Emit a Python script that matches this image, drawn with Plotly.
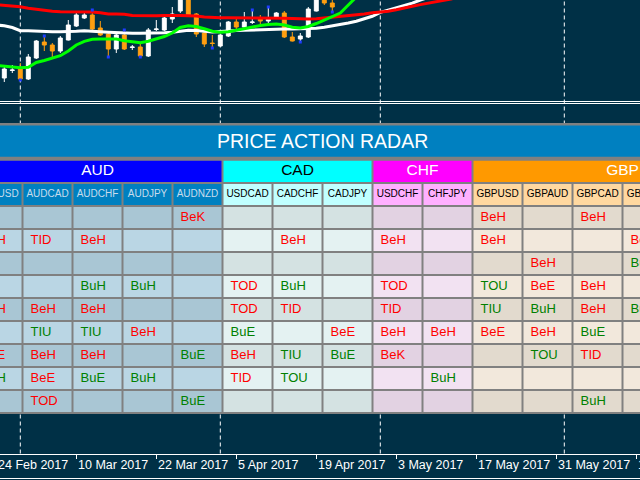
import plotly.graph_objects as go

# ---------------- price chart: daily bars, oldest first (bar 0 = first visible) ----------------
bar_open = [132.20, 132.95, 133.20, 132.10, 134.20, 135.80, 135.50, 134.90, 136.00, 137.40,
            138.20, 138.50, 137.20, 136.60, 135.10, 136.50, 135.25, 135.30, 134.40, 137.05,
            137.00, 138.10, 138.90, 140.40, 138.60, 136.70, 135.70, 135.40, 136.40, 137.80,
            137.30, 137.75, 138.20, 137.90, 138.30, 138.70, 136.30, 136.10, 136.30, 138.90,
            140.30, 139.70]
bar_high = [133.30, 133.50, 133.70, 134.60, 136.00, 136.40, 135.70, 136.40, 138.00, 138.70,
            138.70, 139.00, 137.90, 136.70, 136.80, 137.00, 135.50, 135.70, 137.20, 138.00,
            138.30, 139.30, 140.50, 140.60, 138.70, 136.80, 136.50, 136.60, 137.90, 138.10,
            138.80, 139.00, 138.50, 139.30, 138.80, 138.90, 136.80, 136.70, 139.30, 140.60,
            140.50, 140.00]
bar_low = [131.80, 132.70, 132.00, 132.00, 134.10, 134.90, 134.30, 134.70, 135.95, 137.30,
           138.10, 137.00, 136.40, 134.30, 134.70, 135.00, 135.00, 134.30, 134.30, 136.90,
           136.90, 137.70, 138.70, 138.45, 136.30, 135.30, 135.20, 135.35, 136.30, 137.00,
           137.20, 137.60, 137.50, 137.70, 138.25, 136.20, 135.85, 135.80, 136.20, 138.85,
           139.50, 138.80]
bar_close = [133.10, 133.00, 132.10, 134.30, 135.90, 135.50, 134.90, 136.20, 137.50, 138.50,
             138.50, 137.10, 136.50, 135.10, 136.50, 135.10, 135.30, 134.40, 137.00, 137.10,
             138.20, 138.60, 140.30, 138.50, 136.60, 135.60, 135.65, 136.50, 137.80, 137.30,
             137.80, 137.80, 137.90, 138.20, 138.70, 136.30, 135.90, 136.40, 139.10, 140.40,
             139.70, 139.30]

# moving averages (shifted forward, so they run past the last bar)
ma_first_bar = -1
ma_red = [139.52, 139.45, 139.38, 139.32, 139.17, 139.05, 138.95, 138.88, 138.83, 138.83,
          138.83, 138.83, 138.80, 138.73, 138.60, 138.60, 138.57, 138.45, 138.43, 138.43,
          138.43, 138.45, 138.47, 138.45, 138.42, 138.40, 138.30, 138.23, 138.23, 138.23,
          138.23, 138.23, 138.23, 138.23, 138.23, 138.22, 138.18, 138.15, 138.10, 138.10,
          138.13, 138.20, 138.30, 138.33, 138.42, 138.50, 138.60, 138.72, 138.77, 138.87,
          139.02, 139.22, 139.37, 139.54, 139.68, 139.84, 139.98, 140.12]
ma_white = [137.50, 137.42, 137.25, 136.93, 136.93, 136.88, 136.83, 136.83, 136.83, 136.83,
            136.87, 136.92, 136.90, 136.83, 136.78, 136.73, 136.70, 136.67, 136.67, 136.67,
            136.70, 136.73, 136.77, 136.87, 136.98, 136.94, 136.85, 136.80, 136.85, 136.93,
            136.95, 136.97, 137.00, 137.05, 137.10, 137.10, 137.10, 137.10, 137.10, 137.13,
            137.17, 137.27, 137.40, 137.50, 137.70, 137.88, 138.10, 138.37, 138.77, 139.00,
            139.22, 139.40, 139.68, 140.00, 140.25]
ma_green = [133.45, 133.40, 133.30, 133.23, 133.27, 133.75, 133.95, 134.17, 134.43, 134.90,
            135.50, 135.87, 136.08, 136.10, 136.10, 136.10, 135.92, 135.82, 135.73, 135.88,
            136.10, 136.35, 136.70, 137.25, 137.43, 137.35, 137.13, 136.87, 136.77, 136.82,
            136.97, 137.15, 137.30, 137.45, 137.55, 137.60, 137.50, 137.27, 137.20, 137.35,
            137.65, 138.02, 138.35, 138.70, 139.50, 140.30]

fractal_up_bars = [5, 11, 15, 31, 33]
fractal_down_bars = [2, 13, 17, 26, 37, 41]

date_tick_bars = [-1, 9, 19, 29, 39, 49, 59, 69, 79]
date_tick_labels = ["24 Feb 2017", "10 Mar 2017", "22 Mar 2017", "5 Apr 2017", "19 Apr 2017",
                    "3 May 2017", "17 May 2017", "31 May 2017", "14 Jun 2017"]
month_separator_bars = [2, 27, 47, 70]

# ---------------- price action radar table ----------------
currencies = ["AUD", "CAD", "CHF", "GBP"]
currency_first_col = [0, 5, 8, 10]
currency_last_col = [4, 7, 9, 15]
pairs = ["AUDUSD", "AUDCAD", "AUDCHF", "AUDJPY", "AUDNZD", "USDCAD", "CADCHF", "CADJPY",
         "USDCHF", "CHFJPY", "GBPUSD", "GBPAUD", "GBPCAD", "GBPCHF"]
signals = [
    ["", "", "", "", "BeK", "", "", "", "", "", "BeH", "", "BeH", ""],
    ["BeH", "TID", "BeH", "", "", "", "BeH", "", "BeH", "", "BeH", "", "", "BeH"],
    ["", "", "", "", "", "", "", "", "", "", "", "BeH", "", "BuH"],
    ["", "", "BuH", "BuH", "", "TOD", "BuH", "", "TOD", "", "TOU", "BeE", "BeH", ""],
    ["BeH", "BeH", "BeH", "", "", "TOD", "TID", "", "TID", "", "TIU", "BuH", "BeH", "BuH"],
    ["", "TIU", "TIU", "BeH", "", "BuE", "", "BeE", "BeH", "BeH", "BeE", "BeH", "BuE", ""],
    ["BeE", "BeH", "BeH", "", "BuE", "BeH", "TIU", "BuE", "BeK", "", "", "TOU", "TID", ""],
    ["BuH", "BeE", "BuE", "BuH", "", "TID", "TOU", "", "", "BuH", "", "", "", ""],
    ["", "TOD", "", "", "BuE", "", "", "", "", "", "", "", "BuH", ""],
]
table_title = "PRICE ACTION RADAR"

# ---------------- styling ----------------
BG = "#003046"
CANDLE_UP = "#FFFFFF"
CANDLE_DOWN = "#FF9F10"
GRID_GRAY = "#808080"
TITLE_BLUE = "#0080C0"
FONT = "Liberation Sans, Arial, sans-serif"
group_fill = ["#0000FF", "#00FFFF", "#FF00FF", "#FF9900"]
group_text = ["#FFFFFF", "#000000", "#FFFFFF", "#FFFFFF"]
header_fill = ["#0080C0", "#C0FFFF", "#FFB0FF", "#FFD8A0"]
header_text = ["#C8DCEC", "#000000", "#000000", "#000000"]
row_fill_a = ["#A9C6D4", "#D4E2E2", "#E2D2E2", "#E2DACE"]
row_fill_b = ["#BAD6E4", "#E4F2F2", "#F2E2F2", "#F2E8DC"]
SIG_BULL = "#008000"
SIG_BEAR = "#FF0000"

W, H = 640, 480
X_RANGE = [-0.5375, 79.4625]          # 8 px per bar
AXIS_Y = 1 - 453.5 / H
PANE_BORDER_Y = [1 - 101.5 / H, 1 - 103.5 / H]
# table axes: one unit = one column (50 px) / one row (23 px)
T_X_RANGE = [0.05, 12.85]
T_Y_RANGE = [11.413, -9.4565]
TABLE_TOP, TABLE_BOTTOM = -4.11, 8.54
TITLE_TOP, TITLE_BOTTOM = -4.0, -2.64
GROUP_TOP, GROUP_BOTTOM = -2.47, -1.545
TITLE_CENTER_COL = 6.5
CELL_PAD = 0.16
INSET = 0.02

fig = go.Figure()

bars = list(range(len(bar_open)))
fig.add_trace(go.Candlestick(
    x=bars, open=bar_open, high=bar_high, low=bar_low, close=bar_close,
    increasing=dict(line=dict(color=CANDLE_UP, width=1), fillcolor=CANDLE_UP),
    decreasing=dict(line=dict(color=CANDLE_DOWN, width=1), fillcolor=CANDLE_DOWN),
    whiskerwidth=0, hoverinfo="skip", showlegend=False,
))

for vals, col in [(ma_white, "#FFFFFF"), (ma_red, "#FF0000"), (ma_green, "#00FF00")]:
    fig.add_trace(go.Scatter(
        x=list(range(ma_first_bar, ma_first_bar + len(vals))), y=vals, mode="lines",
        line=dict(color=col, width=3), hoverinfo="skip", showlegend=False,
    ))

fig.add_trace(go.Scatter(
    x=fractal_up_bars + fractal_down_bars,
    y=[bar_high[i] for i in fractal_up_bars] + [bar_low[i] for i in fractal_down_bars],
    mode="markers", marker=dict(symbol="square", size=3, color="#1E3CFF"),
    hoverinfo="skip", showlegend=False,
))

# ---- table cells ----
group_of_col = []
for g, (c0, c1) in enumerate(zip(currency_first_col, currency_last_col)):
    group_of_col += [g] * (c1 - c0 + 1)

cell_colors = []
for g in range(len(currencies)):
    cell_colors += [header_fill[g], row_fill_a[g], row_fill_b[g]]
n = len(cell_colors)
colorscale = []
for i, c in enumerate(cell_colors):
    colorscale += [[i / n, c], [(i + 1) / n, c]]

cols = list(range(len(pairs)))
rows = [-1] + list(range(len(signals)))
z = [[group_of_col[c] * 3 for c in cols]]
for r in range(len(signals)):
    z.append([group_of_col[c] * 3 + 1 + (r % 2) for c in cols])

fig.add_trace(go.Heatmap(
    x=cols, y=rows, z=z, colorscale=colorscale, zmin=-0.5, zmax=n - 0.5,
    xgap=2, ygap=2, showscale=False, hoverinfo="skip", xaxis="x2", yaxis="y2",
))

fig.add_trace(go.Scatter(
    x=cols, y=[-1] * len(cols), text=pairs, mode="text", textposition="middle center",
    textfont=dict(family=FONT, size=10, color=[header_text[group_of_col[c]] for c in cols]),
    hoverinfo="skip", showlegend=False, xaxis="x2", yaxis="y2",
))

sx, sy, st, sc = [], [], [], []
for r, row in enumerate(signals):
    for c, lab in enumerate(row):
        if lab:
            sx.append(c - 0.5 + CELL_PAD)
            sy.append(r)
            st.append(lab)
            sc.append(SIG_BULL if (lab.startswith("Bu") or lab.endswith("U")) else SIG_BEAR)
fig.add_trace(go.Scatter(
    x=sx, y=sy, text=st, mode="text", textposition="middle right",
    textfont=dict(family=FONT, size=13, color=sc),
    hoverinfo="skip", showlegend=False, xaxis="x2", yaxis="y2",
))

group_mid = (GROUP_TOP + GROUP_BOTTOM) / 2
fig.add_trace(go.Scatter(
    x=[(a + b) / 2 for a, b in zip(currency_first_col, currency_last_col)],
    y=[group_mid] * len(currencies), text=currencies, mode="text",
    textposition="middle center", textfont=dict(family=FONT, size=15.5, color=group_text),
    hoverinfo="skip", showlegend=False, xaxis="x2", yaxis="y2",
))

shapes = []
for b in month_separator_bars:
    shapes.append(dict(type="line", xref="x", yref="paper", x0=b, x1=b, y0=AXIS_Y, y1=1,
                       line=dict(color="#FFFFFF", width=1, dash="4px,3px"), layer="below"))
for yy in PANE_BORDER_Y:
    shapes.append(dict(type="line", xref="paper", yref="paper", x0=0, x1=1, y0=yy, y1=yy,
                       line=dict(color="#FFFFFF", width=1)))
shapes.append(dict(type="line", xref="paper", yref="paper", x0=0, x1=1, y0=1.5 / H, y1=1.5 / H,
                   line=dict(color="#FFFFFF", width=1)))
shapes.append(dict(type="rect", xref="x2", yref="y2", x0=-1, x1=len(pairs) + 1,
                   y0=TABLE_TOP, y1=TABLE_BOTTOM, fillcolor=GRID_GRAY, line_width=0, layer="below"))
shapes.append(dict(type="rect", xref="x2", yref="y2", x0=-1, x1=len(pairs) + 1,
                   y0=TITLE_TOP, y1=TITLE_BOTTOM, fillcolor=TITLE_BLUE, line_width=0, layer="below"))
for g in range(len(currencies)):
    shapes.append(dict(type="rect", xref="x2", yref="y2",
                       x0=currency_first_col[g] - 0.5 + INSET, x1=currency_last_col[g] + 0.5 - INSET,
                       y0=GROUP_TOP, y1=GROUP_BOTTOM, fillcolor=group_fill[g], line_width=0,
                       layer="below"))

annotations = [dict(x=TITLE_CENTER_COL, xref="x2", y=(TITLE_TOP + TITLE_BOTTOM) / 2, yref="y2",
                    text=table_title, showarrow=False, xanchor="center", yanchor="middle",
                    font=dict(family=FONT, size=19.5, color="#FFFFFF"))]
span = X_RANGE[1] - X_RANGE[0]
for b, lab in zip(date_tick_bars, date_tick_labels):
    annotations.append(dict(x=(b - X_RANGE[0]) / span, xref="paper", y=1 - 465 / H, yref="paper",
                            text=lab, showarrow=False, xanchor="left", yanchor="middle",
                            font=dict(family=FONT, size=12.5, color="#FFFFFF")))

fig.update_layout(
    width=W, height=H, margin=dict(l=0, r=0, t=0, b=0),
    paper_bgcolor=BG, plot_bgcolor="rgba(0,0,0,0)", showlegend=False,
    xaxis=dict(range=X_RANGE, anchor="free", position=AXIS_Y, showgrid=False, zeroline=False,
               showline=True, linecolor="#FFFFFF", linewidth=1, ticks="outside",
               tickcolor="#FFFFFF", ticklen=4, tickvals=date_tick_bars, showticklabels=False,
               rangeslider=dict(visible=False), fixedrange=True),
    yaxis=dict(domain=[1 - 100 / H, 1], range=[130, 140], visible=False, fixedrange=True),
    xaxis2=dict(domain=[0, 1], range=T_X_RANGE, anchor="y2", visible=False, fixedrange=True),
    yaxis2=dict(domain=[0, 1], range=T_Y_RANGE, anchor="x2", visible=False, fixedrange=True),
    shapes=shapes, annotations=annotations,
)

# the page's default body margin would push the 640x480 figure off the window
fig.write_html("out.html", config={"displayModeBar": False},
               post_script="document.body.style.margin = '0px';")
